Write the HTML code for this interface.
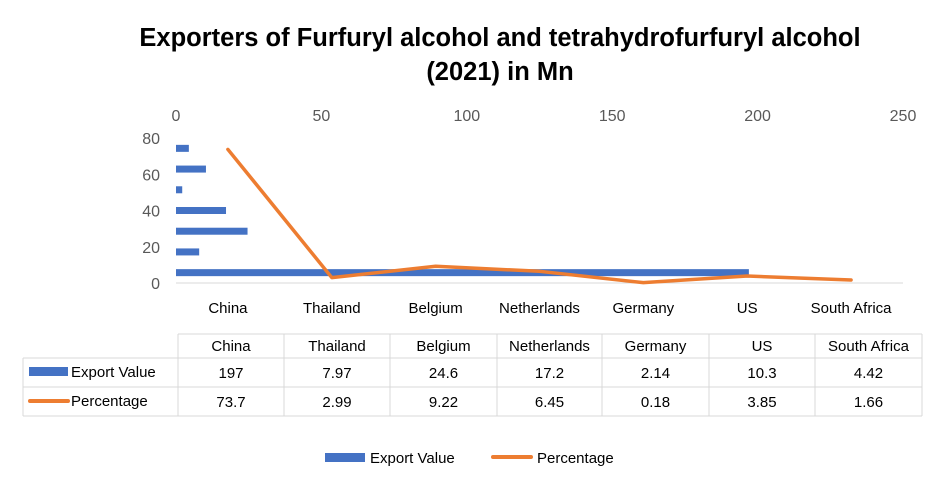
<!DOCTYPE html>
<html><head><meta charset="utf-8"><style>
body{margin:0;background:#fff;}
svg text{font-family:"Liberation Sans",sans-serif;}
</style></head><body>
<svg id="chart" width="940" height="488" viewBox="0 0 940 488" xmlns="http://www.w3.org/2000/svg">
<rect width="940" height="488" fill="#fff"/>
<text x="500" y="46" text-anchor="middle" font-size="25.5" font-weight="bold" fill="#000">Exporters of Furfuryl alcohol and tetrahydrofurfuryl alcohol</text>
<text x="500" y="80" text-anchor="middle" font-size="25.5" font-weight="bold" fill="#000">(2021) in Mn</text>
<g id="plot"></g>
</svg>
<script>
const categories=["China","Thailand","Belgium","Netherlands","Germany","US","South Africa"];
const exportValue=[197,7.97,24.6,17.2,2.14,10.3,4.42];
const percentage=[73.7,2.99,9.22,6.45,0.18,3.85,1.66];
const exportLabels=["197","7.97","24.6","17.2","2.14","10.3","4.42"];
const percentLabels=["73.7","2.99","9.22","6.45","0.18","3.85","1.66"];
const xTicks=[0,50,100,150,200,250];
const yTicks=[0,20,40,60,80];

const NS="http://www.w3.org/2000/svg";
const g=document.getElementById('plot');
function mk(tag,attrs,text){const e=document.createElementNS(NS,tag);for(const k in attrs)e.setAttribute(k,attrs[k]);if(text!==undefined)e.textContent=text;g.appendChild(e);return e;}
const L=176,R=903,T=138,B=283;
const xv=v=>L+v*(R-L)/250;
const yv=v=>B-v*(B-T)/80;
const band=(R-L)/categories.length;
const xc=i=>L+(i+0.5)*band;
const vband=(B-T)/categories.length;
const yb=i=>B-(i+0.5)*vband;

xTicks.forEach(t=>{const e=mk('text',{x:xv(t),y:121,'text-anchor':'middle','font-size':16,fill:'#595959'},t);

});
yTicks.forEach(t=>{const e=mk('text',{x:160,y:yv(t)+6,'text-anchor':'end','font-size':16,fill:'#595959'},t);

});
const base=mk('line',{x1:L,y1:B,x2:R,y2:B,stroke:'#d9d9d9','stroke-width':1});



exportValue.forEach((v,i)=>{const r=mk('rect',{x:L,y:yb(i)-3.5,width:xv(v)-L,height:7,fill:'#4472c4'});

});

const pts=percentage.map((v,i)=>xc(i)+','+yv(v)).join(' ');
const pl=mk('polyline',{points:pts,fill:'none',stroke:'#ed7d31','stroke-width':3.5,'stroke-linejoin':'round','stroke-linecap':'round'});



categories.forEach((c,i)=>{const e=mk('text',{x:xc(i),y:313,'text-anchor':'middle','font-size':15,fill:'#000'},c);

});

const cols=[178,284,390,497,602,709,815,922];
const rows=[334,358,387,416];
const tl=23;
const gridColor='#d9d9d9';
function ln(x1,y1,x2,y2){const e=mk('line',{x1,y1,x2,y2,stroke:gridColor,'stroke-width':1});

}
ln(cols[0],rows[0],cols[7],rows[0]);
for(let r=1;r<4;r++)ln(tl,rows[r],cols[7],rows[r]);
ln(tl,rows[1],tl,rows[3]);
cols.forEach(x=>ln(x,rows[0],x,rows[3]));
const cc=i=>(cols[i]+cols[i+1])/2;
categories.forEach((c,i)=>{const e=mk('text',{x:cc(i),y:351,'text-anchor':'middle','font-size':15,fill:'#000'},c);

});
exportLabels.forEach((c,i)=>{const e=mk('text',{x:cc(i),y:378,'text-anchor':'middle','font-size':15,fill:'#000'},c);

});
percentLabels.forEach((c,i)=>{const e=mk('text',{x:cc(i),y:407,'text-anchor':'middle','font-size':15,fill:'#000'},c);

});
let e;
e=mk('rect',{x:29,y:367,width:39,height:9,fill:'#4472c4'});


e=mk('text',{x:71,y:377,'font-size':15,fill:'#000'},'Export Value');


e=mk('line',{x1:30,y1:401,x2:68,y2:401,stroke:'#ed7d31','stroke-width':4,'stroke-linecap':'round'});


e=mk('text',{x:71,y:406,'font-size':15,fill:'#000'},'Percentage');



e=mk('rect',{x:325,y:453,width:40,height:9,fill:'#4472c4'});


e=mk('text',{x:370,y:463,'font-size':15,fill:'#000'},'Export Value');


e=mk('line',{x1:493,y1:457,x2:531,y2:457,stroke:'#ed7d31','stroke-width':4,'stroke-linecap':'round'});


e=mk('text',{x:537,y:463,'font-size':15,fill:'#000'},'Percentage');


</script>
</body></html>
